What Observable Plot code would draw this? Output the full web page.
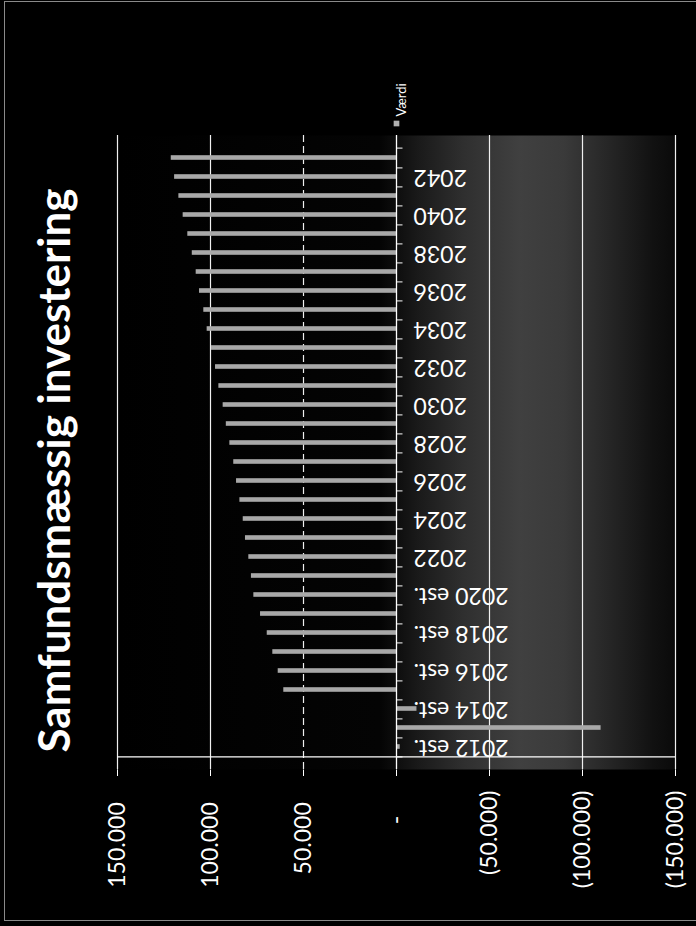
<!DOCTYPE html>
<html>
<head>
<meta charset="utf-8">
<script src="https://cdn.jsdelivr.net/npm/d3@7"></script>
<script src="https://cdn.jsdelivr.net/npm/@observablehq/plot@0.6"></script>
<style>
html, body { margin: 0; padding: 0; background: #000; }
#wrap { position: relative; width: 696px; height: 926px; overflow: hidden; background: #000; }
#border { position: absolute; left: 4px; top: 1px; width: 720px; height: 920px; border: 1.5px solid #8a8a8a; box-sizing: border-box; pointer-events: none; }
</style>
</head>
<body>
<div id="wrap"><div id="border"></div></div>
<script>
const title = "Samfundsmæssig investering";
const legendLabel = "Værdi";

const categories = [
  "2012 est.", "2013 est.", "2014 est.", "2015 est.", "2016 est.", "2017 est.",
  "2018 est.", "2019 est.", "2020 est.", "2021", "2022", "2023", "2024", "2025",
  "2026", "2027", "2028", "2029", "2030", "2031", "2032", "2033", "2034", "2035",
  "2036", "2037", "2038", "2039", "2040", "2041", "2042", "2043"
];
const values = [
  -2000, -110000, -11000, 60600, 63600, 66500,
  69500, 73100, 76700, 78000, 79400, 81200, 82400, 84200,
  86000, 87500, 89600, 91500, 93200, 95500, 97300, 99500, 101800, 103600,
  105900, 107700, 109800, 112200, 114700, 117000, 119300, 121100
];
const valueTicks = [150000, 100000, 50000, 0, -50000, -100000, -150000];
const solidGrid = [150000, 100000, -50000, -100000, -150000];
const dashedGrid = [50000];
const labelledCategories = categories.filter((d, i) => i % 2 === 0);

const data = categories.map((c, i) => ({category: c, value: values[i]}));

const W = 696, H = 926, mTop = 135, mBottom = 157, mLeft = 117, mRight = 21;
const band = (H - mTop - mBottom) / categories.length;

const thousands = v => d3.format(",")(v).replace(/,/g, ".");
const fmt = v => v === 0 ? "-\u2007\u00a0\u00a0"
  : v > 0 ? thousands(v) + "\u00a0\u00a0"
  : "(" + thousands(-v) + ")";

const svg = Plot.plot({
  width: W,
  height: H,
  marginTop: mTop,
  marginBottom: mBottom,
  marginLeft: mLeft,
  marginRight: mRight,
  style: {background: "#000", color: "#fff", fontFamily: "Lato, 'Open Sans', sans-serif", fontSize: "23px"},
  x: {
    domain: [-150000, 150000],
    reverse: true,
    ticks: valueTicks,
    tickFormat: fmt,
    tickRotate: -90,
    tickSize: 7,
    tickPadding: 14,
    label: null
  },
  y: {domain: categories, reverse: true, padding: 0, axis: null},
  marks: [
    Plot.frame({fill: "url(#plotgrad)", stroke: null}),
    Plot.ruleX(solidGrid, {x: d => d, stroke: "#f0f0f0", strokeWidth: 1.2}),
    Plot.ruleX(dashedGrid, {x: d => d, stroke: "#f0f0f0", strokeWidth: 1.2, strokeDasharray: "7,4"}),
    Plot.barX(data, {x: "value", y: "category", fill: "#a8a8a8", insetTop: 7.2, insetBottom: 7.2}),
    Plot.ruleX([0], {x: d => d, stroke: "#fff", strokeWidth: 1.3}),
    Plot.ruleY([categories[0]], {y: d => d, x1: -150000, x2: 150000, dy: band / 2, stroke: "#fff", strokeWidth: 1.3}),
    Plot.ruleY(categories, {y: d => d, x1: 0, x2: -3500, dy: band / 2, stroke: "#fff"}),
    Plot.ruleY([categories[categories.length - 1]], {y: d => d, x1: 0, x2: -3500, dy: -band / 2, stroke: "#fff"}),
    Plot.text(labelledCategories, {
      x: 0, y: d => d, text: d => d, dx: 17, rotate: 180, textAnchor: "end",
      fill: "#fff", fontSize: 23
    }),
    Plot.text([title], {
      text: d => d, frameAnchor: "left", dx: -62, dy: 18, rotate: -90, textAnchor: "middle",
      fill: "#fff", fontSize: 42, fontWeight: "bold"
    }),
    Plot.dot([0], {x: d => d, frameAnchor: "top", dy: -12, symbol: "square", r: 3.2, fill: "#b0b0b0"}),
    Plot.text([legendLabel], {
      x: 0, text: d => d, frameAnchor: "top", dy: -19, rotate: -90, textAnchor: "start",
      fill: "#fff", fontSize: 13
    })
  ]
});

const ns = "http://www.w3.org/2000/svg";
const defs = document.createElementNS(ns, "defs");
defs.innerHTML = `<linearGradient id="plotgrad" x1="0" x2="1" y1="0" y2="0">
  <stop offset="0" stop-color="#000"/>
  <stop offset="0.47" stop-color="#040404"/>
  <stop offset="0.54" stop-color="#1a1a1a"/>
  <stop offset="0.62" stop-color="#2f2f2f"/>
  <stop offset="0.72" stop-color="#404040"/>
  <stop offset="0.8" stop-color="#3a3a3a"/>
  <stop offset="0.88" stop-color="#262626"/>
  <stop offset="0.96" stop-color="#111"/>
  <stop offset="1" stop-color="#0a0a0a"/>
</linearGradient>`;
svg.insertBefore(defs, svg.firstChild);

const wrap = document.getElementById("wrap");
wrap.insertBefore(svg, wrap.firstChild);

const titleEl = Array.from(svg.querySelectorAll("text")).find(t => t.textContent === title);
if (titleEl && titleEl.getComputedTextLength) {
  const len = titleEl.getComputedTextLength();
  if (len > 0) {
    const size = Math.max(34, Math.min(48, 42 * 564 / len));
    titleEl.setAttribute("font-size", size);
  }
}
</script>
</body>
</html>
